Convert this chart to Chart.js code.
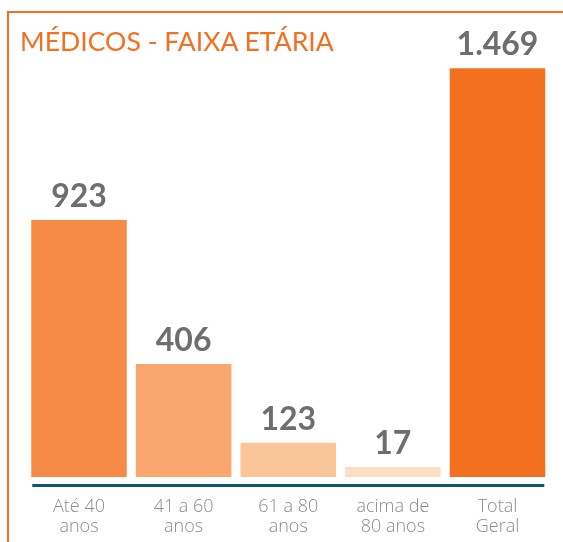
<!DOCTYPE html>
<html>
<head>
<meta charset="utf-8">
<script src="https://cdn.jsdelivr.net/npm/chart.js@4/dist/chart.umd.min.js"></script>
<style>
  html, body { margin: 0; padding: 0; background: #fff; }
  #wrap { position: relative; width: 563px; height: 542px; }
  #frame {
    position: absolute; left: 7px; top: 11px; right: 0; bottom: 0;
    border-left: 2px solid #F37021; border-top: 2px solid #F37021;
  }
  #title {
    position: absolute; left: 20px; top: 25px; margin: 0;
    font-family: Lato, sans-serif; font-weight: 400; font-size: 26.6px;
    color: #F37021; line-height: 32px; white-space: nowrap;
  }
  canvas { position: absolute; left: 0; top: 0; }
</style>
</head>
<body>
<div id="wrap">
  <div id="frame"></div>
  <canvas id="chart" width="563" height="542"></canvas>
  <h1 id="title">MÉDICOS - FAIXA ETÁRIA</h1>
</div>
<script>
// --- Dados ---
const categorias = [['Até 40', 'anos'], ['41 a 60', 'anos'], ['61 a 80', 'anos'], ['acima de', '80 anos'], ['Total', 'Geral']];
const valores = [923, 406, 123, 17, 1469];
const rotulos = ['923', '406', '123', '17', '1.469'];
const cores = ['#F68B47', '#F9A66F', '#FBC59A', '#FDDEC5', '#F37021'];

// Plugin: números em cima das barras + linha do eixo
const extras = {
  id: 'extras',
  afterDatasetsDraw(chart) {
    const ctx = chart.ctx;
    const meta = chart.getDatasetMeta(0);
    ctx.save();
    // linha do eixo (só entre a primeira e a última barra)
    const first = meta.data[0], last = meta.data[meta.data.length - 1];
    const y = chart.chartArea.bottom + 8.5;
    ctx.strokeStyle = '#0B5670';
    ctx.lineWidth = 3;
    ctx.beginPath();
    ctx.moveTo(first.x - first.width / 2 + 1, y);
    ctx.lineTo(last.x + last.width / 2 - 1, y);
    ctx.stroke();
    // valores
    ctx.fillStyle = '#6D6E71';
    ctx.font = 'bold 32px Lato, sans-serif';
    ctx.textAlign = 'center';
    ctx.textBaseline = 'alphabetic';
    meta.data.forEach((bar, i) => {
      ctx.fillText(rotulos[i], bar.x, bar.y - 13);
    });
    ctx.restore();
  }
};

new Chart(document.getElementById('chart').getContext('2d'), {
  type: 'bar',
  data: {
    labels: categorias,
    datasets: [{
      data: valores,
      backgroundColor: cores,
      borderWidth: 0,
      barPercentage: 0.913,
      categoryPercentage: 1,
      minBarLength: 10
    }]
  },
  options: {
    responsive: false,
    animation: false,
    devicePixelRatio: 1,
    layout: { padding: { left: 26.7, right: 13.2, top: 31.7, bottom: 0 } },
    plugins: { legend: { display: false }, tooltip: { enabled: false } },
    scales: {
      y: { display: false, min: 0, max: 1600 },
      x: {
        afterFit(scale) { scale.height = 65; },
        grid: { display: false, drawTicks: false },
        border: { display: false },
        ticks: {
          padding: 20,
          color: '#8C8C8C',
          font: { family: 'Open Sans', weight: '300', size: 18, lineHeight: 1.1 }
        }
      }
    }
  },
  plugins: [extras]
});
</script>
</body>
</html>
